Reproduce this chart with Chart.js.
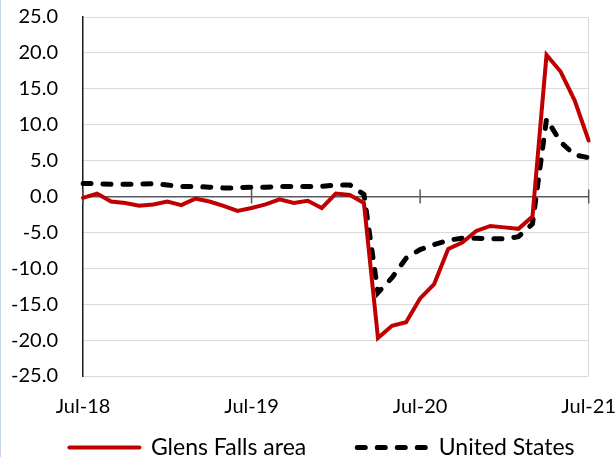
<!DOCTYPE html>
<html>
<head>
<meta charset="utf-8">
<script src="https://cdn.jsdelivr.net/npm/chart.js@4"></script>
<style>
  html, body { margin: 0; padding: 0; background: #fff; }
  #wrap { position: relative; width: 615px; height: 457px; border-left: 1px solid #c7d6ee; }
</style>
</head>
<body>
<div id="wrap"><canvas id="c"></canvas></div>
<script>
const months = ['Jul-18','Aug-18','Sep-18','Oct-18','Nov-18','Dec-18','Jan-19','Feb-19','Mar-19','Apr-19','May-19','Jun-19',
  'Jul-19','Aug-19','Sep-19','Oct-19','Nov-19','Dec-19','Jan-20','Feb-20','Mar-20','Apr-20','May-20','Jun-20',
  'Jul-20','Aug-20','Sep-20','Oct-20','Nov-20','Dec-20','Jan-21','Feb-21','Mar-21','Apr-21','May-21','Jun-21','Jul-21'];
const xTickLabels = ['Jul-18','Jul-19','Jul-20','Jul-21'];
const glensFalls = [-0.2,0.4,-0.7,-0.9,-1.3,-1.1,-0.7,-1.2,-0.3,-0.7,-1.3,-2.0,
  -1.6,-1.1,-0.4,-0.9,-0.6,-1.6,0.4,0.2,-0.9,-19.7,-18.0,-17.5,
  -14.2,-12.2,-7.3,-6.4,-4.8,-4.1,-4.3,-4.5,-2.8,19.7,17.4,13.4,7.8];
const unitedStates = [1.8,1.8,1.7,1.7,1.7,1.8,1.6,1.4,1.4,1.3,1.2,1.2,
  1.3,1.3,1.4,1.4,1.4,1.4,1.6,1.6,0.3,-13.4,-11.3,-8.6,
  -7.4,-6.7,-6.1,-5.8,-5.8,-5.9,-5.9,-5.6,-3.8,10.8,7.6,5.8,5.4];
const seriesNames = ['Glens Falls area','United States'];

const FONT = { family: 'Lato, "Open Sans", sans-serif', size: 20 };
const LEGEND_FONT = { family: 'Lato, "Open Sans", sans-serif', size: 23 };
const LEGEND_GAP = 51;

const zeroTicks = {
  id: 'zeroTicks',
  beforeDatasetsDraw(chart) {
    const x = chart.scales.x, y = chart.scales.y, ctx = chart.ctx;
    const y0 = y.getPixelForValue(0);
    ctx.save();
    ctx.strokeStyle = '#595959';
    ctx.lineWidth = 1.5;
    months.forEach((m, i) => {
      if (xTickLabels.includes(m)) {
        const px = x.getPixelForValue(i);
        ctx.beginPath();
        ctx.moveTo(px, y0 - 7);
        ctx.lineTo(px, y0 + 7);
        ctx.stroke();
      }
    });
    ctx.restore();
  }
};

// Move the legend block up (its internal label padding doubles as item spacing)
const legendShift = {
  id: 'legendShift',
  afterLayout(chart) {
    const lg = chart.legend;
    if (!lg) return;
    const dy = -34, dx = 11;
    lg.top += dy; lg.bottom += dy;
    lg.left += dx; lg.right += dx;
  }
};

new Chart(document.getElementById('c'), {
  type: 'line',
  data: {
    labels: months,
    datasets: [
      { label: seriesNames[0], data: glensFalls, borderColor: '#C00000', backgroundColor: '#C00000',
        borderWidth: 4, pointRadius: 0, tension: 0, borderCapStyle: 'round', borderJoinStyle: 'miter' },
      { label: seriesNames[1], data: unitedStates, borderColor: '#000000', backgroundColor: '#000000',
        borderWidth: 5, borderDash: [8, 12], borderCapStyle: 'round', pointRadius: 0, tension: 0 }
    ]
  },
  options: {
    responsive: true,
    maintainAspectRatio: false,
    animation: false,
    layout: { padding: { top: 17, right: 0, left: 5, bottom: -46 } },
    plugins: {
      legend: {
        position: 'bottom',
        labels: {
          usePointStyle: true,
          pointStyle: 'line',
          pointStyleWidth: 70,
          boxHeight: 20,
          padding: LEGEND_GAP,
          color: '#000',
          font: LEGEND_FONT,
          generateLabels(ch) {
            const items = Chart.defaults.plugins.legend.labels.generateLabels(ch);
            items.forEach((it) => {
              const ds = ch.data.datasets[it.datasetIndex];
              it.lineDash = ds.borderDash || [];
              it.lineWidth = ds.borderWidth;
              it.strokeStyle = ds.borderColor;
              it.lineCap = 'round';
              it.pointStyle = 'line';
            });
            return items;
          }
        }
      },
      tooltip: { enabled: false }
    },
    scales: {
      x: {
        offset: false,
        grid: {
          drawTicks: true,
          tickLength: 19,
          tickColor: 'transparent',
          color: (c) => (c.index === months.length - 1 ? '#d9d9d9' : 'transparent')
        },
        border: { display: false },
        ticks: {
          autoSkip: false, maxRotation: 0, padding: 0, color: '#000', font: FONT,
          callback: function (v) { const l = this.getLabelForValue(v); return xTickLabels.includes(l) ? l : ''; }
        }
      },
      y: {
        min: -25, max: 25,
        afterFit(scale) { scale.width = 77; },
        grid: {
          drawTicks: true,
          tickLength: 25,
          tickColor: 'transparent',
          color: (c) => (c.tick && c.tick.value === 0 ? '#595959' : '#d9d9d9'),
          lineWidth: (c) => (c.tick && c.tick.value === 0 ? 1.5 : 1)
        },
        border: { display: true, color: '#1a1a1a', width: 1.5 },
        ticks: { stepSize: 5, padding: 0, color: '#000', font: FONT, callback: (v) => v.toFixed(1) }
      }
    }
  },
  plugins: [zeroTicks, legendShift]
});
</script>
</body>
</html>
